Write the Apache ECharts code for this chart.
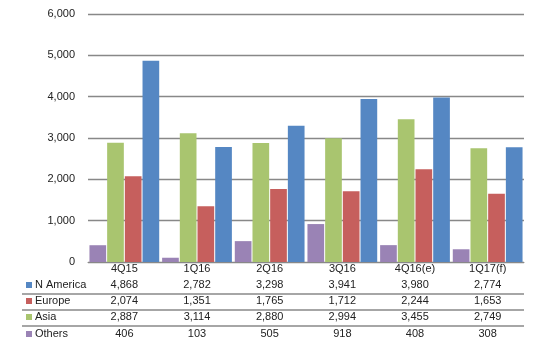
<!DOCTYPE html>
<html><head><meta charset="utf-8">
<script src="https://cdn.jsdelivr.net/npm/echarts@6/dist/echarts.min.js"></script>
<style>html,body{margin:0;padding:0;background:#fff}#c{width:539px;height:350px}</style>
</head><body><div id="c"></div>
<script>
const categories = ['4Q15','1Q16','2Q16','3Q16','4Q16(e)','1Q17(f)'];
const nAmerica = [4868,2782,3298,3941,3980,2774];
const europe = [2074,1351,1765,1712,2244,1653];
const asia = [2887,3114,2880,2994,3455,2749];
const others = [406,103,505,918,408,308];
const yTicks = [0,1000,2000,3000,4000,5000,6000];

const colors = {n:'#5587C3', e:'#C65F5D', a:'#A9C56F', o:'#9A83B5'};
const font = 'Liberation Sans, Arial, sans-serif';
const fmt = v => v.toLocaleString('en-US');

const chart = echarts.init(document.getElementById('c'), null, {renderer:'canvas'});
const bar = (name, data, color) => ({
  name, type:'bar', data, itemStyle:{color}, barGap:'6%', barCategoryGap:'4%', animation:false
});
chart.setOption({
  animation:false,
  grid:{left:88, right:15, top:14, bottom:88, containLabel:false},
  xAxis:{type:'category', data:categories,
    axisLine:{lineStyle:{color:'#888', width:1}}, axisTick:{show:false},
    axisLabel:{color:'#222', fontFamily:font, fontSize:11, margin:1}},
  yAxis:{type:'value', min:yTicks[0], max:yTicks[yTicks.length-1], interval:1000,
    axisLine:{show:false}, axisTick:{show:false},
    splitLine:{lineStyle:{color:'#888', width:1.3}},
    axisLabel:{color:'#222', fontFamily:font, fontSize:11, margin:13, formatter:v=>fmt(v)}},
  series:[bar('Others',others,colors.o), bar('Asia',asia,colors.a), bar('Europe',europe,colors.e), bar('N America',nAmerica,colors.n)]
});

const rows = [
  {name:'N America', data:nAmerica, color:colors.n},
  {name:'Europe', data:europe, color:colors.e},
  {name:'Asia', data:asia, color:colors.a},
  {name:'Others', data:others, color:colors.o}
];
const rowY = [285, 301, 317, 334];
const lineY = [294, 310, 326];
const elements = [];
rows.forEach((r, ri) => {
  elements.push({type:'rect', shape:{x:26, y:rowY[ri]-3, width:6, height:6}, style:{fill:r.color}});
  elements.push({type:'text', x:35, y:rowY[ri], style:{text:r.name, fill:'#222', font:'11px '+font, textAlign:'left', textVerticalAlign:'middle'}});
  r.data.forEach((v, ci) => {
    const px = chart.convertToPixel({xAxisIndex:0}, categories[ci]);
    elements.push({type:'text', x:px, y:rowY[ri], style:{text:fmt(v), fill:'#222', font:'11px '+font, textAlign:'center', textVerticalAlign:'middle'}});
  });
});
lineY.forEach(y => elements.push({type:'line', shape:{x1:22, y1:y, x2:524, y2:y}, style:{stroke:'#888', lineWidth:1.3}}));
chart.setOption({graphic:{elements}});
</script></body></html>
